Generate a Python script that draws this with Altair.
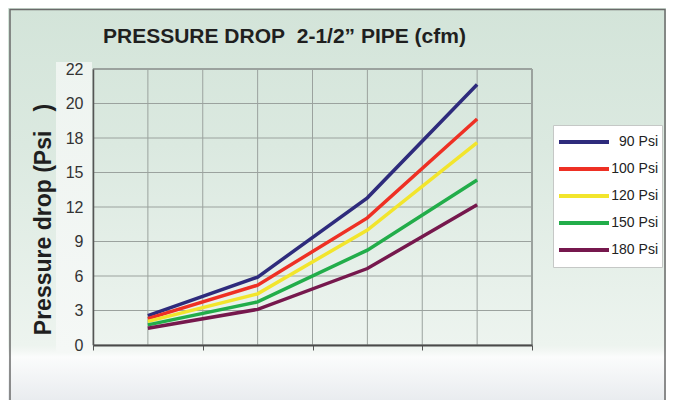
import altair as alt
import pandas as pd

# ---------------- data ----------------
title_text = "PRESSURE DROP\u00a0\u00a02-1/2\u201d PIPE (cfm)"
y_title = "Pressure drop (Psi\u00a0\u00a0\u00a0)"

series_names = ["90 Psi", "100 Psi", "120 Psi", "150 Psi", "180 Psi"]
series_colors = ["#2e2b7c", "#ee3024", "#f2e52c", "#22ad4a", "#76184d"]

flow_points = [1, 3, 5, 7]
drop_90 = [2.55, 5.9, 12.8, 21.1]
drop_100 = [2.3, 5.2, 11.05, 19.1]
drop_120 = [2.05, 4.45, 10.0, 17.6]
drop_150 = [1.75, 3.75, 8.25, 14.35]
drop_180 = [1.45, 3.1, 6.65, 12.2]

y_ticks = [0, 3, 6, 9, 12, 15, 18, 20, 22]
x_grid = [0, 1, 2, 3, 4, 5, 6, 7, 8]
x_ticks = [0, 2, 4, 6, 8]

rows = []
for name, vals in zip(series_names, [drop_90, drop_100, drop_120, drop_150, drop_180]):
    for f, v in zip(flow_points, vals):
        rows.append({"series": name, "flow": f, "drop": v})
df = pd.DataFrame(rows)

# ---------------- layout ----------------
W, H = 439, 276
PAD_L, PAD_T, PAD_R, PAD_B = 85, 61, 134, 55
FONT = "Liberation Sans"

n = len(y_ticks) - 1
y_range = [H - i * H / n for i in range(len(y_ticks))]
y_scale = alt.Scale(domain=y_ticks, range=y_range, nice=False, zero=False)
x_scale = alt.Scale(domain=[x_grid[0], x_grid[-1]], nice=False, zero=False)

x_axis = alt.Axis(values=x_ticks, labels=False, grid=False, ticks=True, tickSize=5,
                  tickColor="#555555", domainColor="#4a4a4a", domainWidth=2,
                  title="", zindex=1)
y_axis = alt.Axis(values=y_ticks, ticks=False, grid=False, labelFontSize=16,
                  labelFont=FONT, labelColor="#333333", labelPadding=10,
                  domainColor="#555555", domainWidth=1.5, zindex=1,
                  title=y_title, titleFont=FONT, titleFontSize=23,
                  titleFontWeight="bold", titleColor="#1f1f1f", titleAngle=270,
                  titleX=-43, titleY=150, titleBaseline="alphabetic",
                  titleAlign="center")

one = pd.DataFrame({"k": [0]})

bg_fill = alt.LinearGradient(
    gradient="linear", x1=0, y1=0, x2=0, y2=1,
    stops=[
        alt.GradientStop(offset=0.0, color="#d3e4d9"),
        alt.GradientStop(offset=0.35, color="#dbe9e0"),
        alt.GradientStop(offset=0.86, color="#edf4ef"),
        alt.GradientStop(offset=0.875, color="#f3f7f4"),
        alt.GradientStop(offset=0.89, color="#fbfcfc"),
        alt.GradientStop(offset=1.0, color="#e9ecef"),
    ],
)
bg = alt.Chart(one).mark_rect(fill=bg_fill).encode(
    x=alt.value(-PAD_L), x2=alt.value(W + PAD_R),
    y=alt.value(-PAD_T), y2=alt.value(H + PAD_B),
)

panel_fill = alt.LinearGradient(
    gradient="linear", x1=0, y1=0, x2=0, y2=1,
    stops=[
        alt.GradientStop(offset=0.0, color="#eef4f0"),
        alt.GradientStop(offset=1.0, color="#f5f8f6"),
    ],
)
panel = alt.Chart(one).mark_rect(fill=panel_fill).encode(
    x=alt.value(-37), x2=alt.value(-1), y=alt.value(-7), y2=alt.value(H + 7),
)

hgrid = alt.Chart(pd.DataFrame({"tick": y_ticks})).mark_rule(color="#9ba29e").encode(
    y=alt.Y("tick:Q", scale=y_scale, axis=y_axis),
    strokeWidth=alt.condition("datum.tick === 22", alt.value(2), alt.value(1)),
)
vgrid = alt.Chart(pd.DataFrame({"g": x_grid})).mark_rule(color="#9ba29e").encode(
    x=alt.X("g:Q", scale=x_scale, axis=x_axis),
    strokeWidth=alt.condition("datum.g === 8", alt.value(2), alt.value(1)),
)

lines = alt.Chart(df).mark_line(strokeWidth=3.5).encode(
    x=alt.X("flow:Q", scale=x_scale, axis=x_axis),
    y=alt.Y("drop:Q", scale=y_scale, axis=y_axis),
    color=alt.Color(
        "series:N", sort=series_names,
        scale=alt.Scale(domain=series_names, range=series_colors),
        legend=alt.Legend(title=None, orient="none", legendX=460, legendY=56,
                          direction="vertical", fillColor="white", strokeColor="#c5c8c6",
                          padding=4, symbolType="stroke", symbolSize=2500,
                          symbolStrokeWidth=4, clipHeight=26, rowPadding=1,
                          labelAlign="right", labelOffset=47, labelFontSize=14,
                          labelFont=FONT, labelColor="#222222"),
    ),
)

border = alt.Chart(one).mark_rect(fillOpacity=0, stroke="#6a6a6a", strokeWidth=1.5).encode(
    x=alt.value(-83), x2=alt.value(W + PAD_R - 1),
    y=alt.value(-59.5), y2=alt.value(H + PAD_B + 20),
)

chart = alt.layer(bg, panel, hgrid, vgrid, lines, border).properties(
    width=W, height=H,
    padding={"left": PAD_L, "top": PAD_T, "right": PAD_R, "bottom": PAD_B},
    autosize=alt.AutoSizeParams(type="none"),
    background="white",
    title=alt.TitleParams(text=title_text, anchor="start", frame="group", dx=10,
                          offset=-56, baseline="alphabetic", fontSize=21, font=FONT,
                          fontWeight="bold", color="#1f1f1f"),
).configure_view(stroke="transparent")

chart.save("out.html", embed_options={"renderer": "svg", "actions": False})
